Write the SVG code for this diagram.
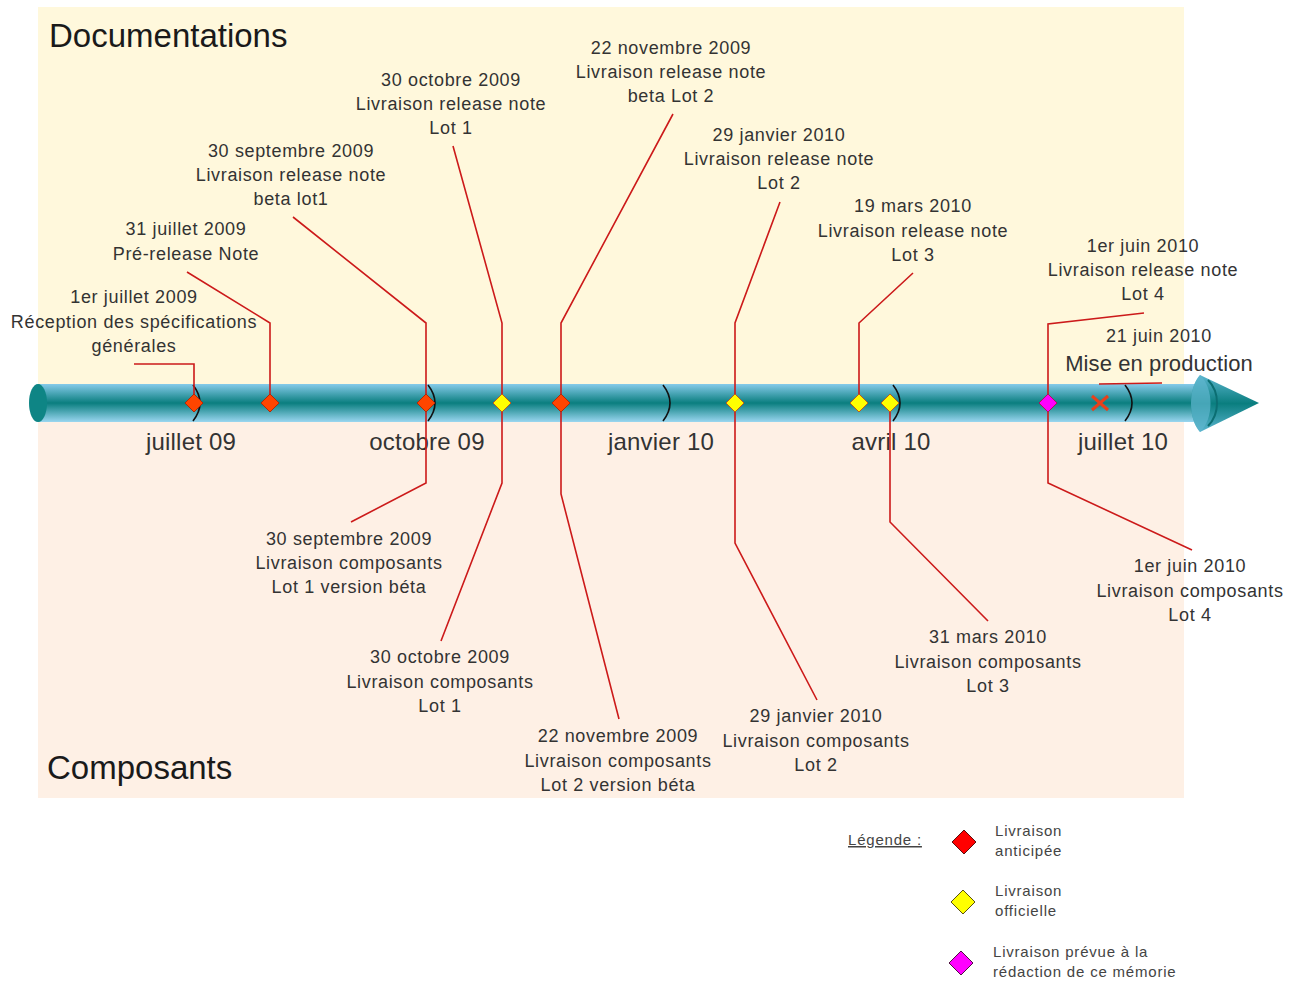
<svg xmlns="http://www.w3.org/2000/svg" xmlns:xlink="http://www.w3.org/1999/xlink" width="1298" height="981" viewBox="0 0 1298 981">
<defs>
<style>
.lbl{font-family:"Liberation Sans",Arial,sans-serif;font-size:18px;fill:#333;text-anchor:middle;letter-spacing:0.65px}
.title{font-family:"Liberation Sans",Arial,sans-serif;font-size:33px;fill:#1a1a1a}
.month{font-family:"Liberation Sans",Arial,sans-serif;font-size:24px;fill:#333;text-anchor:middle;letter-spacing:0.2px}
.leg{font-family:"Liberation Sans",Arial,sans-serif;font-size:15px;fill:#444;letter-spacing:0.8px}
.con{fill:none;stroke:#CC1A1A;stroke-width:1.6}
.tick{fill:none;stroke:#111;stroke-width:1.6}
.red{fill:#FF4500;stroke:#B02808;stroke-width:1}
.yel{fill:#FFFF00;stroke:#C05A18;stroke-width:1}
.mag{fill:#FF00FF;stroke:#B0105A;stroke-width:1}
</style>
<linearGradient id="bar" x1="0" y1="0" x2="0" y2="1">
<stop offset="0" stop-color="#86CBEA"/>
<stop offset="0.5" stop-color="#0A7E7F"/>
<stop offset="1" stop-color="#9AD6F0"/>
</linearGradient>
<linearGradient id="head" x1="0" y1="0" x2="0" y2="1">
<stop offset="0" stop-color="#5BB5CF"/>
<stop offset="0.5" stop-color="#0A7E7F"/>
<stop offset="1" stop-color="#5BB5CF"/>
</linearGradient>
<path id="dia" d="M0,-9 L9,0 L0,9 L-9,0 Z"/>
<path id="ldia" d="M0,-12 L12,0 L0,12 L-12,0 Z"/>
</defs>

<g id="backgrounds">
<rect x="38" y="7" width="1146" height="396" fill="#FFF8DC"/>
<rect x="38" y="403" width="1146" height="395" fill="#FEF0E5"/>
<text class="title" x="49" y="47">Documentations</text>
<text class="title" x="47" y="779">Composants</text>
</g>

<g id="axis">
<rect x="38" y="384" width="1165" height="38" fill="url(#bar)"/>
<ellipse cx="38" cy="403" rx="9" ry="19" fill="#0E8585"/>
<path d="M1200,375 C1188,388 1188,419 1200,432 L1259,403 Z" fill="url(#head)"/>
<path d="M1200,375 C1188,388 1188,419 1200,432 C1214,419 1214,388 1200,375 Z" fill="#5FB6CF" opacity="0.7"/>
<path d="M1208,380 C1220,392 1220,414 1208,426" fill="none" stroke="#0B6E72" stroke-width="2"/>
<path class="tick" d="M193,385 Q207,403 193,421"/>
<path class="tick" d="M428,385 Q442,403 428,421"/>
<path class="tick" d="M663,385 Q677,403 663,421"/>
<path class="tick" d="M893,385 Q907,403 893,421"/>
<path class="tick" d="M1125,385 Q1139,403 1125,421"/>
<text class="month" x="191" y="450">juillet 09</text>
<text class="month" x="427" y="450">octobre 09</text>
<text class="month" x="661" y="450">janvier 10</text>
<text class="month" x="891" y="450">avril 10</text>
<text class="month" x="1123" y="450">juillet 10</text>
</g>

<g id="connectors">
<polyline class="con" points="134,364 194,364 194,403"/>
<polyline class="con" points="187,272 270,323 270,403"/>
<polyline class="con" points="293,217 426,323 426,483 351,522"/>
<polyline class="con" points="453,146 502,323 502,483 441,641"/>
<polyline class="con" points="673,114 561,323 561,494 619,719"/>
<polyline class="con" points="780,202 735,323 735,543 817,700"/>
<polyline class="con" points="913,273 859,323 859,403"/>
<polyline class="con" points="890,403 890,522 988,621"/>
<polyline class="con" points="1144,313 1048,324 1048,483 1192,550"/>
<line class="con" x1="1099" y1="384" x2="1162" y2="383"/>
</g>

<g id="n-1juillet">
<use href="#dia" class="red" x="194" y="403"/>
<text class="lbl" x="134" y="303">1er juillet 2009</text>
<text class="lbl" x="134" y="328">Réception des spécifications</text>
<text class="lbl" x="134" y="352">générales</text>
</g>
<g id="n-31juillet">
<use href="#dia" class="red" x="270" y="403"/>
<text class="lbl" x="186" y="235">31 juillet 2009</text>
<text class="lbl" x="186" y="260">Pré-release Note</text>
</g>
<g id="n-30sept">
<use href="#dia" class="red" x="426" y="403"/>
<text class="lbl" x="291" y="157">30 septembre 2009</text>
<text class="lbl" x="291" y="181">Livraison release note</text>
<text class="lbl" x="291" y="205">beta lot1</text>
<text class="lbl" x="349" y="545">30 septembre 2009</text>
<text class="lbl" x="349" y="569">Livraison composants</text>
<text class="lbl" x="349" y="593">Lot 1 version béta</text>
</g>
<g id="n-30oct">
<use href="#dia" class="yel" x="502" y="403"/>
<text class="lbl" x="451" y="86">30 octobre 2009</text>
<text class="lbl" x="451" y="110">Livraison release note</text>
<text class="lbl" x="451" y="134">Lot 1</text>
<text class="lbl" x="440" y="663">30 octobre 2009</text>
<text class="lbl" x="440" y="688">Livraison composants</text>
<text class="lbl" x="440" y="712">Lot 1</text>
</g>
<g id="n-22nov">
<use href="#dia" class="red" x="561" y="403"/>
<text class="lbl" x="671" y="54">22 novembre 2009</text>
<text class="lbl" x="671" y="78">Livraison release note</text>
<text class="lbl" x="671" y="102">beta Lot 2</text>
<text class="lbl" x="618" y="742">22 novembre 2009</text>
<text class="lbl" x="618" y="767">Livraison composants</text>
<text class="lbl" x="618" y="791">Lot 2 version béta</text>
</g>
<g id="n-29jan">
<use href="#dia" class="yel" x="735" y="403"/>
<text class="lbl" x="779" y="141">29 janvier 2010</text>
<text class="lbl" x="779" y="165">Livraison release note</text>
<text class="lbl" x="779" y="189">Lot 2</text>
<text class="lbl" x="816" y="722">29 janvier 2010</text>
<text class="lbl" x="816" y="747">Livraison composants</text>
<text class="lbl" x="816" y="771">Lot 2</text>
</g>
<g id="n-19mars">
<use href="#dia" class="yel" x="859" y="403"/>
<text class="lbl" x="913" y="212">19 mars 2010</text>
<text class="lbl" x="913" y="237">Livraison release note</text>
<text class="lbl" x="913" y="261">Lot 3</text>
</g>
<g id="n-31mars">
<use href="#dia" class="yel" x="890" y="403"/>
<text class="lbl" x="988" y="643">31 mars 2010</text>
<text class="lbl" x="988" y="668">Livraison composants</text>
<text class="lbl" x="988" y="692">Lot 3</text>
</g>
<g id="n-1juin">
<use href="#dia" class="mag" x="1048" y="403"/>
<text class="lbl" x="1143" y="252">1er juin 2010</text>
<text class="lbl" x="1143" y="276">Livraison release note</text>
<text class="lbl" x="1143" y="300">Lot 4</text>
<text class="lbl" x="1190" y="572">1er juin 2010</text>
<text class="lbl" x="1190" y="597">Livraison composants</text>
<text class="lbl" x="1190" y="621">Lot 4</text>
</g>
<g id="n-21juin">
<path d="M1092,396 L1108,410 M1108,396 L1092,410" stroke="#E8401A" stroke-width="3" fill="none"/>
<text class="lbl" x="1159" y="342">21 juin 2010</text>
<text class="lbl" x="1159" y="371" style="font-size:22px;letter-spacing:0.1px">Mise en production</text>
</g>

<g id="legend">
<text class="leg" x="848" y="845" text-decoration="underline">Légende :</text>
<use href="#ldia" x="964" y="842" fill="#FF0000" stroke="#5A1010" stroke-width="1"/>
<text class="leg" x="995" y="836">Livraison</text>
<text class="leg" x="995" y="856">anticipée</text>
<use href="#ldia" x="963" y="902" fill="#FFFF00" stroke="#5A5010" stroke-width="1"/>
<text class="leg" x="995" y="896">Livraison</text>
<text class="leg" x="995" y="916">officielle</text>
<use href="#ldia" x="961" y="963" fill="#FF00FF" stroke="#501040" stroke-width="1"/>
<text class="leg" x="993" y="957">Livraison prévue à la</text>
<text class="leg" x="993" y="977">rédaction de ce mémorie</text>
</g>
</svg>
